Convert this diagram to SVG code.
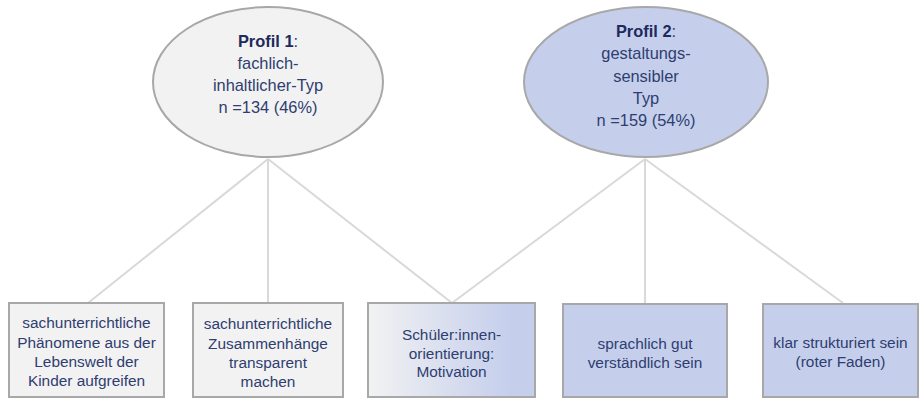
<svg xmlns="http://www.w3.org/2000/svg" width="921" height="399" viewBox="0 0 921 399">
<defs>
<linearGradient id="g3" x1="0" y1="0" x2="1" y2="0">
<stop offset="0" stop-color="#f2f2f2"/>
<stop offset="0.85" stop-color="#c5cfec"/>
<stop offset="1" stop-color="#c5cfec"/>
</linearGradient>
</defs>
<style>
.t{font-family:"Liberation Sans",Arial,sans-serif;fill:#2f3d70;text-anchor:middle}
.e{font-size:16.4px}
.b{font-size:15.4px}
.h{font-weight:bold;fill:#1c2a5c}
.box{stroke:#a8a8a8;stroke-width:2}
.ell{stroke:#a8a8a8;stroke-width:2}
.c{stroke:#d9d9d9;stroke-width:2;fill:none}
</style>
<g id="connectors">
<line class="c" x1="268" y1="159" x2="88" y2="303"/>
<line class="c" x1="268" y1="159" x2="268" y2="303"/>
<line class="c" x1="268" y1="159" x2="452" y2="303"/>
<line class="c" x1="645" y1="159" x2="452" y2="303"/>
<line class="c" x1="645" y1="159" x2="645" y2="303"/>
<line class="c" x1="645" y1="159" x2="843" y2="303"/>
</g>
<g id="profil1">
<ellipse class="ell" cx="268" cy="82" rx="115" ry="75" fill="#f2f2f2"/>
<text class="t e" x="268" y="47"><tspan class="h">Profil 1</tspan>:</text>
<text class="t e" x="268" y="69">fachlich-</text>
<text class="t e" x="268" y="91">inhaltlicher-Typ</text>
<text class="t e" x="268" y="113">n =134 (46%)</text>
</g>
<g id="profil2">
<ellipse class="ell" cx="646" cy="82" rx="122" ry="75" fill="#c5cfec"/>
<text class="t e" x="646" y="37"><tspan class="h">Profil 2</tspan>:</text>
<text class="t e" x="646" y="59">gestaltungs-</text>
<text class="t e" x="646" y="82">sensibler</text>
<text class="t e" x="646" y="104">Typ</text>
<text class="t e" x="646" y="126">n =159 (54%)</text>
</g>
<g id="box1">
<rect class="box" x="9" y="303" width="155" height="94" fill="#f2f2f2"/>
<text class="t b" x="86.5" y="328">sachunterrichtliche</text>
<text class="t b" x="86.5" y="347.5">Phänomene aus der</text>
<text class="t b" x="86.5" y="367">Lebenswelt der</text>
<text class="t b" x="86.5" y="386">Kinder aufgreifen</text>
</g>
<g id="box2">
<rect class="box" x="193" y="303" width="150" height="94" fill="#f2f2f2"/>
<text class="t b" x="268" y="329">sachunterrichtliche</text>
<text class="t b" x="268" y="348.5">Zusammenhänge</text>
<text class="t b" x="268" y="368">transparent</text>
<text class="t b" x="268" y="387">machen</text>
</g>
<g id="box3">
<rect class="box" x="368" y="303" width="167" height="94" fill="url(#g3)"/>
<text class="t b" x="451.5" y="340">Schüler:innen-</text>
<text class="t b" x="451.5" y="358.5">orientierung:</text>
<text class="t b" x="451.5" y="377">Motivation</text>
</g>
<g id="box4">
<rect class="box" x="563" y="304" width="164" height="93" fill="#c5cfec"/>
<text class="t b" x="645" y="349">sprachlich gut</text>
<text class="t b" x="645" y="367.5">verständlich sein</text>
</g>
<g id="box5">
<rect class="box" x="763" y="304" width="155" height="93" fill="#c5cfec"/>
<text class="t b" x="840.5" y="348">klar strukturiert sein</text>
<text class="t b" x="840.5" y="366.5">(roter Faden)</text>
</g>
</svg>
